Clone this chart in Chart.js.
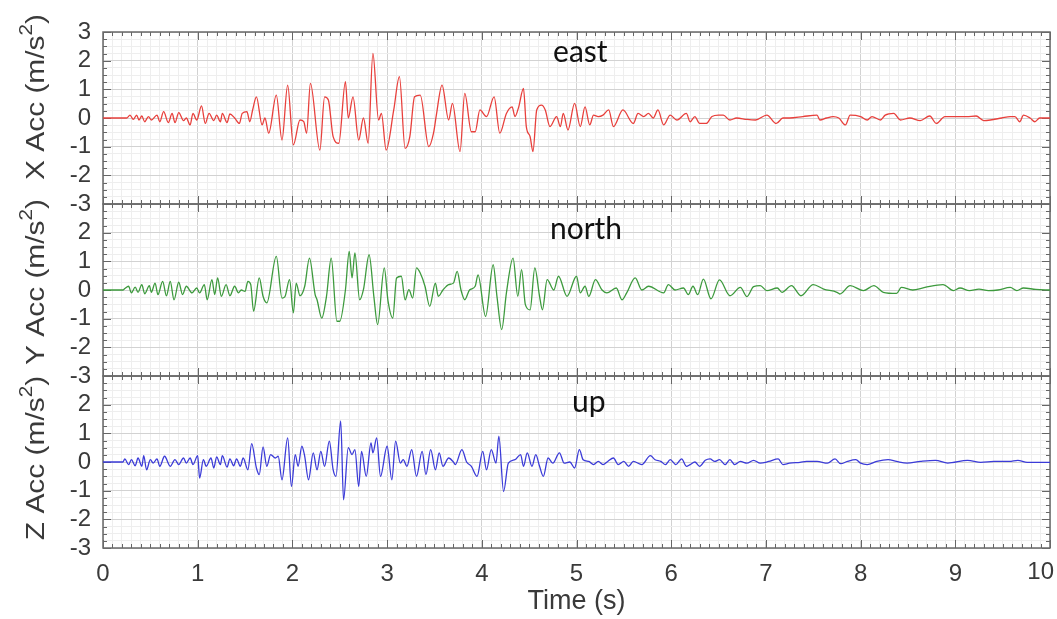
<!DOCTYPE html>
<html><head><meta charset="utf-8">
<script src="https://cdn.jsdelivr.net/npm/chart.js@4/dist/chart.umd.min.js"></script>
<style>html,body{margin:0;padding:0;background:#fff;}#wrap{width:1057px;height:619px;}</style>
</head><body><div id="wrap"><canvas id="c" width="1057" height="619"></canvas></div>
<script>
// ---------- DATA ----------
const eastT = [0,0.25,0.285,0.32,0.355,0.38,0.41,0.44,0.48,0.51,
0.57,0.60,0.64,0.69,0.73,0.76,0.80,0.85,0.88,0.92,
0.95,0.99,1.04,1.08,1.12,1.17,1.20,1.24,1.26,1.31,
1.34,1.39,1.44,1.47,1.52,1.55,1.58,1.62,1.68,1.71,
1.75,1.83,1.89,1.95,2.01,2.08,2.12,2.15,2.19,2.29,
2.34,2.38,2.43,2.49,2.56,2.59,2.64,2.70,2.75,2.80,
2.85,2.91,2.94,2.99,3.07,3.13,3.19,3.24,3.29,3.35,
3.44,3.49,3.52,3.58,3.65,3.69,3.77,3.82,3.89,3.93,
3.98,4.05,4.13,4.19,4.26,4.32,4.35,4.39,4.44,4.47,
4.51,4.54,4.58,4.63,4.67,4.72,4.79,4.83,4.86,4.91,
4.98,5.04,5.09,5.14,5.18,5.23,5.28,5.34,5.39,5.49,
5.60,5.65,5.71,5.76,5.81,5.86,5.92,5.99,6.06,6.16,
6.20,6.25,6.30,6.37,6.43,6.50,6.55,6.62,6.69,6.80,
6.89,7.01,7.11,7.18,7.25,7.39,7.54,7.57,7.64,7.71,
7.77,7.84,7.89,8.00,8.07,8.12,8.21,8.26,8.35,8.42,
8.52,8.63,8.73,8.80,8.89,9.01,9.12,9.22,9.30,9.37,
9.49,9.58,9.63,9.68,9.72,9.79,9.84,9.89,10.0];
const eastA = [0,0,0.10,-0.05,0.10,-0.07,0.07,-0.13,0.05,-0.07,
0.10,-0.13,0.22,-0.16,0.16,-0.16,0.19,-0.09,0,-0.24,
0.16,-0.07,0.42,-0.19,0.16,-0.09,0.10,-0.13,0.16,-0.16,
0.14,0,-0.19,0.16,0.22,-0.13,0.28,0.74,-0.24,0,
-0.53,0.80,-0.77,1.15,-0.94,-0.07,-0.13,-0.53,1.21,-1.12,
0.74,0.63,-0.65,-0.88,1.27,0.0,0.74,-0.77,0,-0.88,
2.25,-0.07,0.16,-1.12,0.28,1.44,-1.06,-0.65,0.74,0.80,
-1.0,-0.53,0.10,1.15,-0.07,0.51,-1.17,0.86,-0.48,-0.48,
0.28,0.05,0.74,-0.53,0.16,0.39,0.05,0.39,1.03,-0.30,
-0.65,-1.17,0.28,0.45,0.28,-0.30,0.05,-0.30,0.16,-0.42,
0.51,-0.30,0.39,-0.24,0.10,0.05,0.10,0.28,-0.30,0.28,
-0.19,0.16,0.05,0.16,0,0.28,-0.24,0.10,-0.07,0.16,
-0.13,0.05,-0.19,-0.19,0.05,0.10,0.10,-0.07,0,-0.05,
-0.07,0.10,-0.19,0,0,0.05,0.10,-0.07,0,0.05,
0,-0.24,0.10,0.05,-0.07,0.05,-0.07,0.10,0.16,-0.07,
0,-0.09,0.07,-0.19,0.05,0.05,0.05,0.07,-0.09,-0.07,
0,0.05,0.05,-0.13,0.10,0,-0.13,0,0];

const northT = [0,0.21,0.23,0.27,0.30,0.34,0.37,0.41,0.44,0.49,
0.51,0.55,0.58,0.63,0.67,0.71,0.75,0.80,0.84,0.88,
0.94,0.99,1.02,1.07,1.10,1.15,1.18,1.21,1.25,1.30,
1.34,1.39,1.43,1.46,1.50,1.53,1.56,1.59,1.65,1.69,
1.73,1.83,1.89,1.92,1.97,2.01,2.04,2.08,2.13,2.18,
2.24,2.26,2.31,2.36,2.41,2.47,2.50,2.56,2.60,2.63,
2.66,2.71,2.75,2.81,2.86,2.90,2.97,3.01,3.06,3.10,
3.15,3.19,3.23,3.27,3.31,3.35,3.40,3.45,3.51,3.54,3.59,
3.65,3.70,3.74,3.78,3.82,3.87,3.93,3.96,4.04,4.12,4.16,
4.21,4.26,4.33,4.38,4.42,4.46,4.51,4.56,4.61,4.64,4.69,
4.76,4.81,4.90,5.00,5.04,5.09,5.13,5.20,5.27,5.32,
5.42,5.48,5.53,5.62,5.69,5.76,5.92,5.97,6.04,6.13,
6.18,6.23,6.28,6.34,6.42,6.51,6.62,6.73,6.80,6.87,
6.94,7.01,7.12,7.17,7.27,7.37,7.50,7.61,7.75,7.78,
7.89,8.03,8.14,8.24,8.38,8.43,8.55,8.68,8.87,8.98,
9.05,9.15,9.25,9.35,9.45,9.58,9.65,9.72,9.85,10.0];
const northA = [0,0,0.05,0.13,-0.10,0.10,-0.08,0.19,-0.13,0.15,
-0.08,0.24,-0.16,0.30,-0.20,0.30,-0.34,0.27,-0.16,0.13,
-0.10,0.07,-0.10,0.19,-0.34,0.36,-0.16,0.42,-0.22,0.19,
-0.20,0.13,-0.10,0,-0.05,0.30,0.19,-0.74,0.42,-0.22,
-0.45,1.17,-0.28,-0.24,0.36,-0.80,0.24,-0.20,0.13,1.11,
-0.16,-0.34,-0.98,-0.22,1.11,-1.09,-1.09,0,1.35,0.42,
1.29,-0.34,0.01,1.23,-0.22,-1.21,0.77,-0.39,-0.98,0.42,
0.48,-0.34,0.01,-0.28,0.77,0.59,0.13,-0.57,0.24,-0.22,0,
0.19,0.24,0.65,0,-0.34,0,0.13,0.53,-0.92,0.88,-0.22,
-1.38,-0.10,1.11,-0.22,0.71,-0.51,-0.69,0.77,-0.22,-0.69,0.36,
0,0.48,-0.22,0.48,-0.10,0.13,-0.22,0.36,0,-0.10,
0.07,-0.34,-0.10,0.42,0,0.13,-0.10,0.19,0,0.07,
-0.16,0.13,-0.16,0.38,-0.31,0.35,-0.20,0.09,-0.23,0.12,
0.15,-0.02,0.07,-0.08,0.15,-0.20,0.19,0.03,-0.08,-0.14,
0.15,-0.02,0.15,-0.08,-0.12,0.09,0,0.09,0.19,-0.02,
0.07,-0.02,0.03,-0.02,0.0,0.09,-0.02,0.07,0.02,0];

const upT = [0,0.21,0.23,0.27,0.30,0.34,0.37,0.41,0.43,0.46,
0.50,0.53,0.57,0.60,0.65,0.71,0.76,0.80,0.85,0.88,
0.92,0.95,1.00,1.02,1.06,1.09,1.14,1.17,1.20,1.24,
1.26,1.31,1.34,1.38,1.41,1.45,1.48,1.53,1.57,1.62,
1.65,1.69,1.73,1.77,1.82,1.85,1.89,1.95,1.99,2.03,
2.06,2.10,2.13,2.17,2.22,2.26,2.30,2.34,2.39,2.43,
2.46,2.51,2.54,2.59,2.63,2.66,2.70,2.73,2.78,2.83,
2.85,2.89,2.93,3.00,3.05,3.09,3.14,3.17,3.21,3.26,
3.31,3.37,3.41,3.46,3.51,3.55,3.59,3.65,3.70,3.72,
3.79,3.84,3.89,3.95,4.01,4.05,4.10,4.15,4.18,4.23,
4.28,4.35,4.41,4.44,4.48,4.53,4.57,4.61,4.65,4.70,
4.75,4.82,4.87,4.93,4.98,5.03,5.07,5.13,5.18,5.23,
5.28,5.33,5.39,5.44,5.50,5.55,5.60,5.69,5.78,5.83,
5.89,5.94,5.99,6.05,6.11,6.16,6.20,6.25,6.30,6.36,
6.41,6.46,6.51,6.57,6.62,6.67,6.73,6.80,6.87,6.94,
7.03,7.13,7.18,7.25,7.36,7.43,7.54,7.65,7.73,7.79,
7.86,7.95,8.00,8.07,8.17,8.29,8.38,8.49,8.63,8.79,
8.92,9.13,9.27,9.41,9.57,9.66,9.76,9.90,10.0];
const upA = [0,0,0.11,-0.09,0.08,-0.13,0.14,-0.15,0.22,-0.27,
0.08,-0.04,0.11,-0.15,0.20,-0.15,0.08,-0.09,0.14,-0.04,
0.14,-0.09,0.22,-0.56,0.08,-0.15,0.14,-0.21,0.18,-0.09,
0.22,-0.18,0.11,-0.13,0.11,-0.15,0.14,-0.27,0.64,-0.21,
-0.44,0.53,-0.15,0.26,0.14,0.20,-0.62,0.84,-0.85,0.26,
-0.15,0.55,0.20,-0.62,0.32,-0.27,0.37,-0.15,0.73,-0.27,
-0.50,1.43,-1.32,0.50,0.26,0.43,-0.85,0.37,-0.50,0.67,
0.32,0.84,-0.50,0.55,-0.62,0.73,-0.04,0.08,-0.15,0.43,
-0.50,0.37,-0.44,0.43,-0.27,0.32,-0.15,0.14,0,-0.09,
0.43,0,-0.15,-0.50,0.37,-0.27,0.43,-0.04,0.90,-1.03,
-0.04,0.08,0.26,-0.15,0.32,-0.15,0.26,-0.15,-0.50,0.14,
-0.04,0.32,-0.04,0,-0.21,0.43,0.08,0.02,-0.09,0.02,
-0.09,0.02,0.14,-0.09,0.02,-0.15,0.02,-0.09,0.22,0.08,
0.02,-0.09,0.08,-0.09,0.11,-0.15,-0.09,0,-0.15,0.06,
0.11,0.02,0.08,-0.09,0.08,-0.09,0.02,-0.04,0.06,-0.04,
0.02,0.11,-0.09,-0.04,-0.01,0.02,0.02,-0.04,0.11,-0.06,
0.02,0.08,-0.04,-0.09,0.02,0.08,0.02,-0.04,0.02,0.06,
-0.04,0.06,-0.01,0.02,0.02,0.06,-0.01,-0.01,-0.01];

const panelNames = ['east','north','up'];
const panelNameT = [5.04, 5.10, 5.13];
const panelNameA = [1.95, 1.78, 1.74];
const yTitleLetters = ['X','Y','Z'];
const xTitle = 'Time (s)';
const axisMin = -3, axisMax = 3, timeMin = 0, timeMax = 10;

// ---------- CHART ----------
const FONT = '"Liberation Sans", Arial, sans-serif';
const TXT = '#3a3a3a';
const isInt = v => Math.abs(v - Math.round(v)) < 1e-6;
const yIds = ['yE','yN','yU'];
const toXY = (T, A) => T.map((t, i) => ({x: t, y: A[i]}));

function yScale(hideTop) {
  return {
    type: 'linear', position: 'left', stack: 'panels', stackWeight: 1,
    min: axisMin, max: axisMax,
    afterFit: s => { s.width = 103; },
    border: {display: false},
    grid: {
      drawTicks: false,
      color: c => (c.tick && isInt(c.tick.value)) ? '#d2d2d2' : '#eeeeee',
      lineWidth: 1
    },
    ticks: {
      stepSize: 0.25, autoSkip: false, maxTicksLimit: 1000, padding: 12,
      color: TXT, font: {family: FONT, size: 24},
      callback: v => (isInt(v) && !(hideTop && Math.round(v) === axisMax)) ? String(Math.round(v)) : ''
    }
  };
}

const framePlugin = {
  id: 'frame',
  beforeDatasetsDraw(chart) {
    const ctx = chart.ctx, xs = chart.scales.x;
    const l = xs.left, r = xs.right;
    ctx.save();
    ctx.strokeStyle = '#666'; ctx.lineWidth = 1;
    yIds.forEach(id => {
      const ys = chart.scales[id];
      const top = ys.top, bot = ys.bottom;
      ctx.beginPath();
      xs.ticks.forEach(tk => {
        const px = Math.round(xs.getPixelForValue(tk.value)) + 0.5;
        const len = isInt(tk.value) ? 8 : 4;
        ctx.moveTo(px, top); ctx.lineTo(px, top + len);
        ctx.moveTo(px, bot); ctx.lineTo(px, bot - len);
      });
      ys.ticks.forEach(tk => {
        const py = Math.round(ys.getPixelForValue(tk.value)) + 0.5;
        const len = isInt(tk.value) ? 8 : 4;
        ctx.moveTo(l, py); ctx.lineTo(l + len, py);
        ctx.moveTo(r, py); ctx.lineTo(r - len, py);
      });
      ctx.stroke();
    });
    ctx.lineWidth = 1.5; ctx.strokeStyle = '#6a6a6a';
    yIds.forEach(id => {
      const ys = chart.scales[id];
      ctx.strokeRect(l, ys.top, r - l, ys.bottom - ys.top);
    });
    ctx.restore();
  },
  afterDraw(chart) {
    const ctx = chart.ctx, xs = chart.scales.x;
    ctx.save();
    // last x tick label kept inside the canvas
    ctx.fillStyle = TXT; ctx.font = '24px ' + FONT;
    ctx.textAlign = 'right'; ctx.textBaseline = 'top';
    ctx.fillText(String(timeMax), xs.getPixelForValue(timeMax) + 4, xs.top + 12);
    // panel names
    ctx.fillStyle = '#111';
    ctx.font = '30px Lato, "Noto Sans", sans-serif';
    ctx.textAlign = 'center'; ctx.textBaseline = 'alphabetic';
    yIds.forEach((id, i) => {
      const ys = chart.scales[id];
      ctx.fillText(panelNames[i], xs.getPixelForValue(panelNameT[i]), ys.getPixelForValue(panelNameA[i]));
    });
    // y titles
    const shifts = [-21, -8, -4];
    yIds.forEach((id, i) => {
      const ys = chart.scales[id];
      const cy = (ys.top + ys.bottom) / 2 + shifts[i];
      const main = yTitleLetters[i] + ' Acc (m/s';
      ctx.save();
      ctx.translate(37, cy); ctx.rotate(-Math.PI / 2); ctx.scale(1.15, 1);
      ctx.fillStyle = TXT; ctx.textAlign = 'left'; ctx.textBaseline = 'middle';
      const f1 = '26px ' + FONT, f2 = '18px ' + FONT;
      ctx.font = f1; const w1 = ctx.measureText(main).width, w3 = ctx.measureText(')').width;
      ctx.font = f2; const w2 = ctx.measureText('2').width;
      let x = -(w1 + w2 + w3) / 2;
      ctx.font = f1; ctx.fillText(main, x, 0); x += w1;
      ctx.font = f2; ctx.fillText('2', x, -10); x += w2;
      ctx.font = f1; ctx.fillText(')', x, 0);
      ctx.restore();
    });
    ctx.restore();
  }
};

new Chart(document.getElementById('c'), {
  type: 'line',
  data: {
    datasets: [
      {data: toXY(eastT, eastA), yAxisID: 'yE', borderColor: '#e8403c', borderWidth: 1.3},
      {data: toXY(northT, northA), yAxisID: 'yN', borderColor: '#3d9a3d', borderWidth: 1.3},
      {data: toXY(upT, upA), yAxisID: 'yU', borderColor: '#3b3bd8', borderWidth: 1.3}
    ]
  },
  options: {
    responsive: false, animation: false, devicePixelRatio: 1,
    layout: {padding: {top: 32, right: 7, left: 0, bottom: 0}},
    elements: {point: {radius: 0}, line: {cubicInterpolationMode: 'monotone'}},
    plugins: {legend: {display: false}, tooltip: {enabled: false}},
    scales: {
      x: {
        type: 'linear', position: 'bottom', min: timeMin, max: timeMax,
        afterFit: s => { s.height = 71; s.paddingRight = 0; s.paddingLeft = 0; },
        border: {display: false},
        grid: {drawTicks: false, color: c => (c.tick && isInt(c.tick.value)) ? '#d2d2d2' : '#eeeeee'},
        ticks: {
          stepSize: 0.1, autoSkip: false, maxTicksLimit: 1000, maxRotation: 0, padding: 12,
          color: TXT, font: {family: FONT, size: 24},
          callback: v => (isInt(v) && Math.round(v) !== timeMax) ? String(Math.round(v)) : ''
        },
        title: {display: true, text: xTitle, color: TXT, font: {family: FONT, size: 27}, padding: {top: 0, bottom: 1}}
      },
      // stacked layout places the last-defined axis on top
      yU: yScale(true),
      yN: yScale(true),
      yE: yScale(false)
    }
  },
  plugins: [framePlugin]
});
</script>
</body></html>
